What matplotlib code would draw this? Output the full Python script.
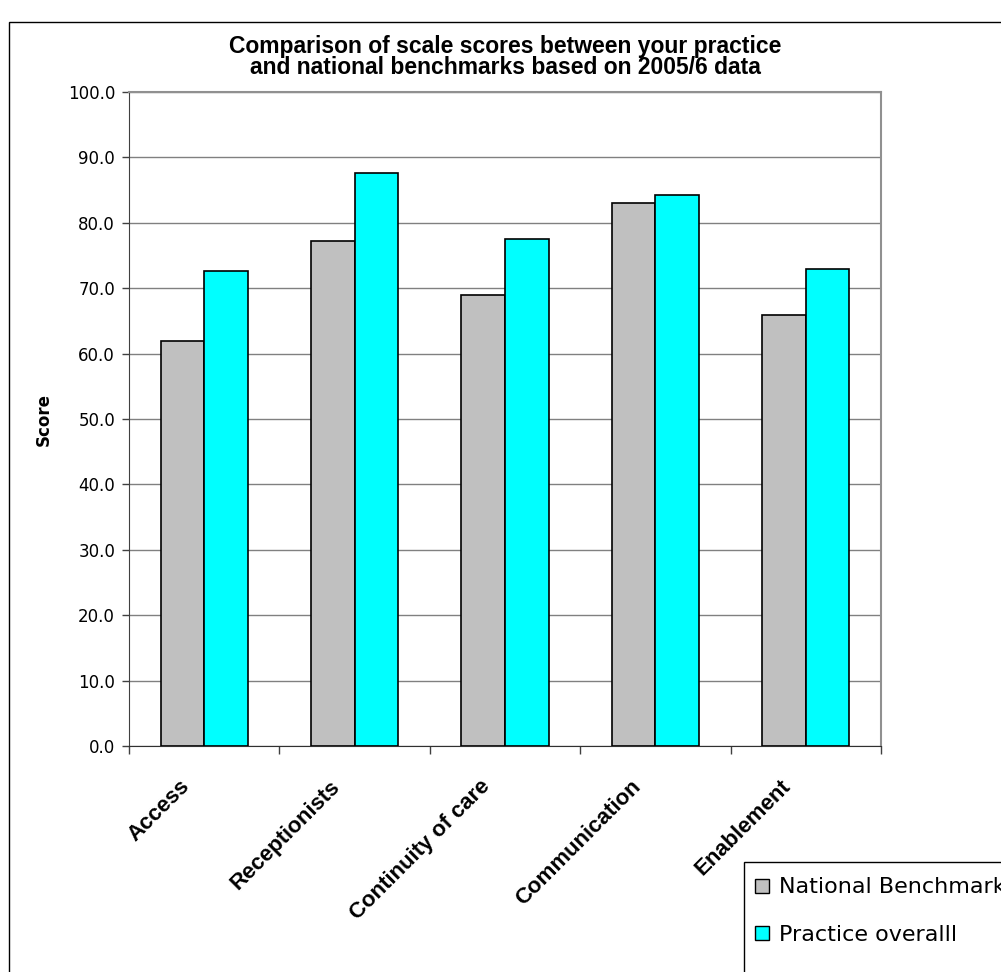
import numpy as np
import matplotlib
matplotlib.use('Agg')
import matplotlib.pyplot as plt
from matplotlib.patches import Rectangle, Patch
from matplotlib.ticker import MultipleLocator, FormatStrFormatter

categories = ['Access', 'Receptionists', 'Continuity of care', 'Communication', 'Enablement']
national = [61.9, 77.2, 68.9, 83.0, 65.9]
practice = [72.6, 87.6, 77.5, 84.2, 73.0]
series_names = ['National Benchmark', 'Practice overalll']
colors = ['#C0C0C0', '#00FFFF']

W, H = 1001, 972
fig = plt.figure(figsize=(W / 100, H / 100), dpi=100)
plt.rcParams['font.family'] = 'DejaVu Sans'

# outer chart border (runs off the right and bottom edges)
fig.patches.append(Rectangle((9 / W, -0.1), 1.2, 1 - 22 / H + 0.1, transform=fig.transFigure,
                             fill=False, edgecolor='black', linewidth=1.0, zorder=0))

ax = fig.add_axes([129 / W, 1 - 746 / H, (881 - 129) / W, (746 - 92) / H])

x = np.arange(len(categories))
bw = 0.29
ax.bar(x - bw / 2, national, bw, color=colors[0], edgecolor='black', linewidth=1.2, zorder=3)
ax.bar(x + bw / 2, practice, bw, color=colors[1], edgecolor='black', linewidth=1.2, zorder=3)

ax.set_xlim(-0.5, len(categories) - 0.5)
ax.set_ylim(0, 100)
ax.yaxis.set_major_locator(MultipleLocator(10))
ax.yaxis.set_major_formatter(FormatStrFormatter('%.1f'))
ax.yaxis.grid(True, color='#808080', linewidth=1.0, zorder=0)
ax.tick_params(axis='y', labelsize=12, length=5, width=1, color='#404040', pad=5)

ax.set_xticks(np.arange(len(categories) + 1) - 0.5)
ax.set_xticklabels([])
ax.tick_params(axis='x', length=6, width=1, color='#404040')
for i, c in enumerate(categories):
    ax.annotate(c, xy=(i, 0), xycoords=('data', 'axes fraction'), xytext=(-13, -27),
                textcoords='offset points', rotation=45, rotation_mode='anchor',
                ha='right', va='center', fontsize=16, fontweight='bold',
                family='Liberation Sans')

for s in ['top', 'right']:
    ax.spines[s].set_color('#909090')
    ax.spines[s].set_linewidth(1.5)
ax.spines['left'].set_color('#404040')
ax.spines['bottom'].set_color('#303030')

ax.set_ylabel('Score', fontsize=12, fontweight='bold', labelpad=11)

fig.text(505 / W, 1 - 57 / H,
         'Comparison of scale scores between your practice\nand national benchmarks based on 2005/6 data',
         ha='center', va='center', fontsize=16.5, fontweight='bold', family='Liberation Sans',
         linespacing=0.85)

# legend box (runs off the figure edge)
fig.patches.append(Rectangle((744 / W, -0.1), 1.0, 1 - 862 / H + 0.1, transform=fig.transFigure,
                             facecolor='white', edgecolor='black', linewidth=1.0, zorder=5))
handles = [Patch(facecolor=colors[i], edgecolor='black', linewidth=1.0) for i in range(2)]
leg = fig.legend(handles, series_names, loc='upper left', bbox_to_anchor=(751 / W, 1 - 873 / H),
                 frameon=False, fontsize=16, handlelength=0.6, handleheight=0.6,
                 handletextpad=0.45, labelspacing=1.25, borderaxespad=0, borderpad=0.2)
leg.set_zorder(6)

fig.savefig('out.png', dpi=100)
